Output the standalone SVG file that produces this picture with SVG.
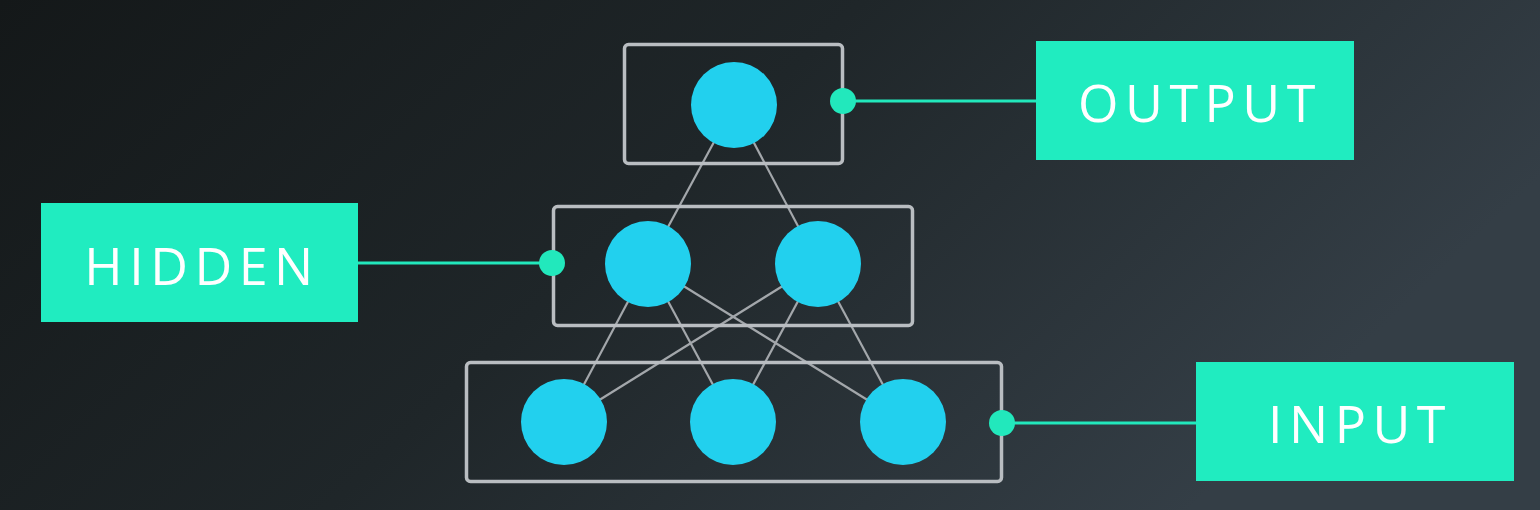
<svg xmlns="http://www.w3.org/2000/svg" width="1540" height="510" viewBox="0 0 1540 510">
<defs>
<linearGradient id="bg" x1="0" y1="0" x2="1" y2="0.35">
<stop offset="0" stop-color="#141819"/>
<stop offset="0.5" stop-color="#1f2629"/>
<stop offset="1" stop-color="#343e46"/>
</linearGradient>
<style>
.layer{fill:none;stroke:#b9bdc1;stroke-width:3.5}
.neuron{fill:#22d0ee}
.edge{stroke:#a3a7ab;stroke-width:2.2}
.link{stroke:#22e8bc;stroke-width:3}
.dot{fill:#22e8bc}
.label{fill:#20ecc0}
.txt{fill:#ffffff;font-family:"Open Sans","Noto Sans",sans-serif;font-size:52px;font-weight:500;letter-spacing:6.5px;text-anchor:middle}
</style>
</defs>
<rect width="1540" height="510" fill="url(#bg)"/>
<g id="connectors">
<line class="edge" x1="734" y1="105" x2="648" y2="264"/>
<line class="edge" x1="734" y1="105" x2="818" y2="264"/>
<line class="edge" x1="648" y1="264" x2="564" y2="422"/>
<line class="edge" x1="648" y1="264" x2="733" y2="422"/>
<line class="edge" x1="648" y1="264" x2="903" y2="422"/>
<line class="edge" x1="818" y1="264" x2="564" y2="422"/>
<line class="edge" x1="818" y1="264" x2="733" y2="422"/>
<line class="edge" x1="818" y1="264" x2="903" y2="422"/>
<line class="link" x1="843" y1="101" x2="1037" y2="101"/>
<line class="link" x1="357" y1="263" x2="552" y2="263"/>
<line class="link" x1="1002" y1="423" x2="1197" y2="423"/>
</g>
<g id="output-layer">
<rect class="layer" x="624.5" y="44.5" width="218" height="119" rx="4"/>
<circle class="neuron" cx="734" cy="105" r="43"/>
<circle class="dot" cx="843" cy="101" r="13"/>
</g>
<g id="hidden-layer">
<rect class="layer" x="553.5" y="206.5" width="359" height="119" rx="4"/>
<circle class="neuron" cx="648" cy="264" r="43"/>
<circle class="neuron" cx="818" cy="264" r="43"/>
<circle class="dot" cx="552" cy="263" r="13"/>
</g>
<g id="input-layer">
<rect class="layer" x="466.5" y="362.5" width="535" height="119" rx="4"/>
<circle class="neuron" cx="564" cy="422" r="43"/>
<circle class="neuron" cx="733" cy="422" r="43"/>
<circle class="neuron" cx="903" cy="422" r="43"/>
<circle class="dot" cx="1002" cy="423" r="13"/>
</g>
<g id="output-label">
<rect class="label" x="1036" y="41" width="318" height="119"/>
<text class="txt" x="1200" y="122">OUTPUT</text>
</g>
<g id="hidden-label">
<rect class="label" x="41" y="203" width="317" height="119"/>
<text class="txt" x="202" y="285">HIDDEN</text>
</g>
<g id="input-label">
<rect class="label" x="1196" y="362" width="318" height="119"/>
<text class="txt" x="1360" y="443">INPUT</text>
</g>
</svg>
